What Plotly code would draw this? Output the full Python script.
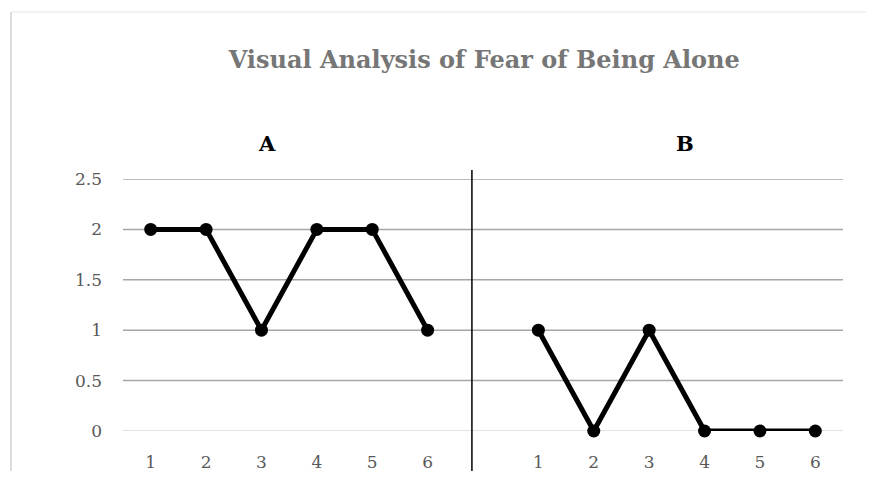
import plotly.graph_objects as go

# phase A and phase B sessions (gap slot between them)
sessions_a = ["1", "2", "3", "4", "5", "6"]
values_a = [2, 2, 1, 2, 2, 1]
sessions_b = ["1", "2", "3", "4", "5", "6"]
values_b = [1, 0, 1, 0, 0, 0]
y_ticks = [0, 0.5, 1, 1.5, 2, 2.5]
y_labels = ["0", "0.5", "1", "1.5", "2", "2.5"]

pos_a = list(range(len(sessions_a)))
pos_b = [len(sessions_a) + 1 + i for i in range(len(sessions_b))]
divider_x = 5.8

font_family = "DejaVu Serif"
line_style = dict(color="black", width=5)
marker_style = dict(color="black", size=13)

fig = go.Figure()
fig.add_trace(go.Scatter(x=pos_a, y=values_a, mode="lines+markers", cliponaxis=False,
                         line=line_style, marker=marker_style, showlegend=False))
fig.add_trace(go.Scatter(x=pos_b, y=values_b, mode="lines+markers", cliponaxis=False,
                         line=line_style, marker=marker_style, showlegend=False))

# gridlines drawn as shapes so the zero line can be lighter
for v in y_ticks:
    fig.add_shape(type="line", xref="paper", yref="y", x0=0, x1=1, y0=v, y1=v,
                  line=dict(color="#d9d9d9" if v == 0 else "#a6a6a6", width=1.5),
                  layer="below")

# phase divider
fig.add_shape(type="line", xref="x", yref="paper", x0=divider_x, x1=divider_x,
              y0=-0.2, y1=1.036, line=dict(color="black", width=1.5))

# chart border (only top and left visible)
fig.add_shape(type="line", xref="paper", yref="paper", x0=-0.1556, x1=1.2,
              y0=1.663, y1=1.663, line=dict(color="#e3e3e3", width=1))
fig.add_shape(type="line", xref="paper", yref="paper", x0=-0.1556, x1=-0.1556,
              y0=-0.3, y1=1.663, line=dict(color="#dcdcdc", width=2))

fig.add_annotation(x=2.1, y=1.2, xref="x", yref="paper", text="<b>A</b>",
                   showarrow=False, font=dict(family=font_family, size=21, color="black"))
fig.add_annotation(x=9.65, y=1.2, xref="x", yref="paper", text="<b>B</b>",
                   showarrow=False, font=dict(family=font_family, size=21, color="black"))

fig.update_layout(
    width=858, height=463,
    margin=dict(l=115, r=23, t=171, b=40),
    paper_bgcolor="white", plot_bgcolor="white",
    title=dict(text="<b>Visual Analysis of Fear of Being Alone</b>",
               x=0.555, xanchor="center", y=0.888, yanchor="middle",
               font=dict(family=font_family, size=24, color="#767676")),
    font=dict(family=font_family, size=17, color="#595959"),
)
fig.update_xaxes(range=[-0.5, len(pos_a) + len(pos_b) + 0.5],
                 tickmode="array", tickvals=pos_a + pos_b,
                 ticktext=sessions_a + sessions_b,
                 tickfont=dict(family=font_family, size=17, color="#595959"),
                 showgrid=False, zeroline=False, showline=False, ticks="",
                 ticklabelstandoff=19, automargin=False)
fig.update_yaxes(range=[0, 2.5], tickmode="array", tickvals=y_ticks,
                 ticktext=y_labels,
                 tickfont=dict(family=font_family, size=17, color="#595959"),
                 showgrid=False, zeroline=False, automargin=False,
                 showline=False, ticks="", ticklabelstandoff=20)

fig.write_html("out.html")
